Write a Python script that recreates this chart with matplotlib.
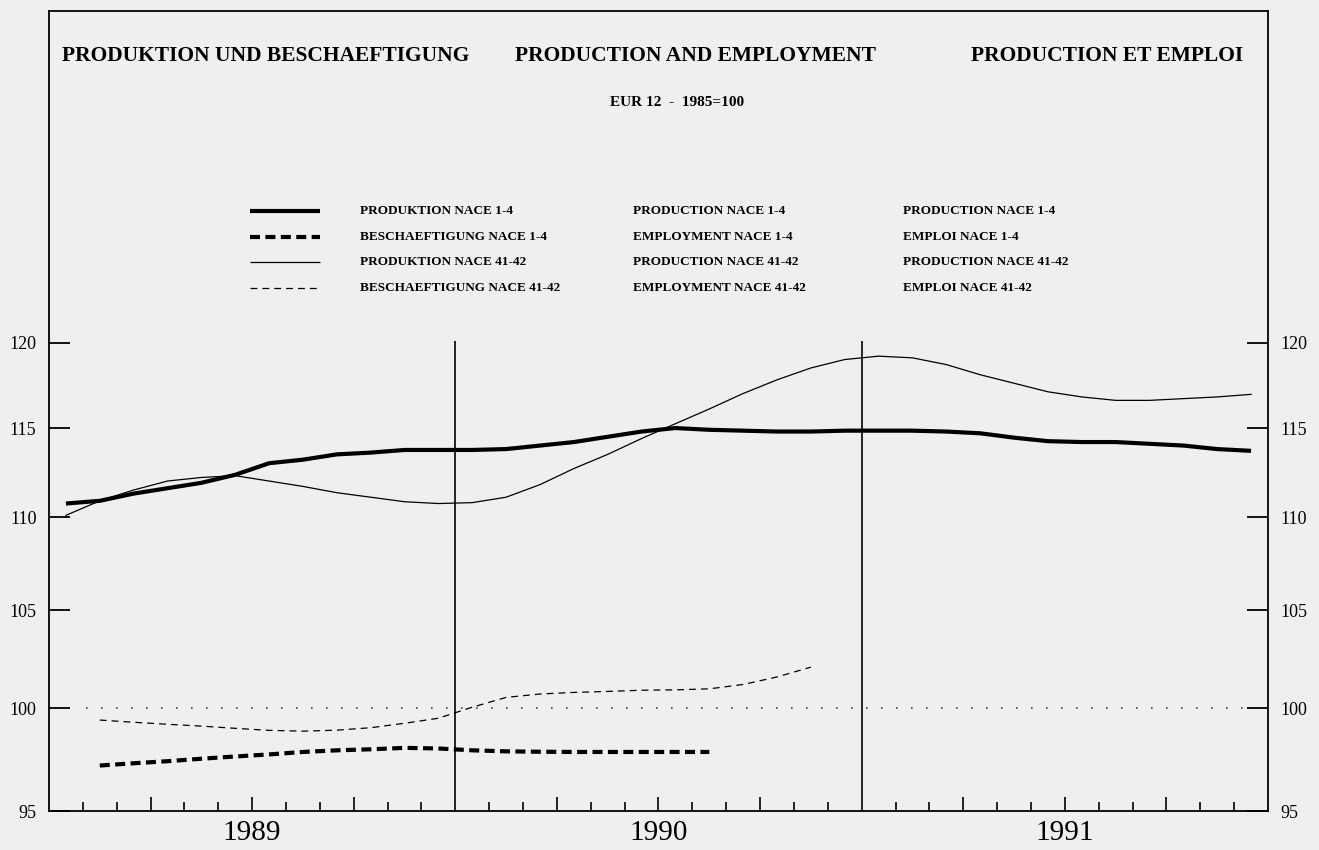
import matplotlib
matplotlib.use("Agg")
import matplotlib.pyplot as plt
import matplotlib.ticker as mticker
import numpy as np

plt.rcParams['font.family'] = ['Liberation Serif', 'DejaVu Serif']

# monthly index: 0 = January 1989 ... 35 = December 1991 (plotted mid-month)
prod_months = list(range(36))
prod_1_4 = [110.75, 110.9, 111.3, 111.6, 111.9, 112.35, 113.0, 113.2, 113.5, 113.6, 113.75, 113.75,
            113.75, 113.8, 114.0, 114.2, 114.5, 114.8, 115.0, 114.9, 114.85, 114.8, 114.8, 114.85,
            114.85, 114.85, 114.8, 114.7, 114.45, 114.25, 114.2, 114.2, 114.1, 114.0, 113.8, 113.7]
prod_41_42 = [110.1, 110.9, 111.5, 112.0, 112.2, 112.3, 112.0, 111.7, 111.35, 111.1, 110.85, 110.75,
              110.8, 111.1, 111.8, 112.7, 113.5, 114.4, 115.25, 116.1, 117.0, 117.8, 118.5, 119.0,
              119.2, 119.1, 118.7, 118.1, 117.6, 117.1, 116.8, 116.6, 116.6, 116.7, 116.8, 116.95]

emp_1_4_months = list(range(1, 20))
emp_1_4 = [97.18, 97.29, 97.39, 97.51, 97.62, 97.72, 97.84, 97.92, 97.97, 98.04, 98.01,
           97.92, 97.87, 97.85, 97.84, 97.84, 97.84, 97.84, 97.84]

emp_41_42_months = list(range(1, 23))
emp_41_42 = [99.41, 99.30, 99.20, 99.11, 99.00, 98.90, 98.86, 98.91, 99.03, 99.25, 99.5,
             100.05, 100.54, 100.71, 100.79, 100.84, 100.90, 100.92, 100.97, 101.19, 101.57, 102.07]

years = ['1989', '1990', '1991']
yticks = [95, 100, 105, 110, 115, 120]

titles = ['PRODUKTION UND BESCHAEFTIGUNG', 'PRODUCTION AND EMPLOYMENT', 'PRODUCTION ET EMPLOI']
subtitle = 'EUR 12  -  1985=100'
legend_de = ['PRODUKTION NACE 1-4', 'BESCHAEFTIGUNG NACE 1-4',
             'PRODUKTION NACE 41-42', 'BESCHAEFTIGUNG NACE 41-42']
legend_en = ['PRODUCTION NACE 1-4', 'EMPLOYMENT NACE 1-4',
             'PRODUCTION NACE 41-42', 'EMPLOYMENT NACE 41-42']
legend_fr = ['PRODUCTION NACE 1-4', 'EMPLOI NACE 1-4',
             'PRODUCTION NACE 41-42', 'EMPLOI NACE 41-42']

bg = '#efefef'
fig = plt.figure(figsize=(13.19, 8.5), dpi=100, facecolor=bg)
ax = fig.add_axes([49 / 1319, 39 / 850, 1219 / 1319, 800 / 850])
ax.set_facecolor(bg)

styles = [
    dict(lw=3.0, ls='-'),
    dict(lw=3.0, ls=(0, (2.4, 1.3))),
    dict(lw=0.9, ls='-'),
    dict(lw=0.9, ls=(0, (5.5, 4.0))),
]

mid = lambda m: np.array(m) + 0.5
ax.plot(mid(prod_months), prod_1_4, color='black', solid_capstyle='butt', **styles[0])
ax.plot(mid(emp_1_4_months), emp_1_4, color='black', dash_capstyle='butt', **styles[1])
ax.plot(mid(prod_months), prod_41_42, color='black', **styles[2])
ax.plot(mid(emp_41_42_months), emp_41_42, color='black', **styles[3])

# reference line at 100 and year separators
ax.axhline(100, xmin=0.03, xmax=0.985, color='#444444', lw=1.2, ls=(0, (1, 8)))
ax.vlines([12, 24], 95, 120.1, color='black', lw=1.2)

ax.set_yscale('log')
ax.set_xlim(0, 36)
ax.set_ylim(95, 141.6)
ax.set_yticks(yticks, labels=[str(v) for v in yticks])
ax.yaxis.set_minor_locator(mticker.NullLocator())
ax.tick_params(axis='y', which='major', direction='in', length=15, width=1.3,
               left=True, right=True, labelleft=True, labelright=True,
               labelsize=13, pad=9)

ax.set_xticks([3, 6, 9, 15, 18, 21, 27, 30, 33])
ax.set_xticks([m for m in range(1, 36) if m % 3 != 0], minor=True)
ax.tick_params(axis='x', which='major', direction='in', length=10, width=1.2,
               labelbottom=False)
ax.tick_params(axis='x', which='minor', direction='in', length=6.5, width=1.2)

for s in ax.spines.values():
    s.set_linewidth(1.3)

tr = ax.get_xaxis_transform()
for i, y in enumerate(years):
    ax.text(6 + 12 * i, -0.027, y, transform=tr, ha='center', va='center', fontsize=21)

# header
for x, t in zip([0.0107, 0.3826, 0.756], titles):
    ax.text(x, 0.9437, t, transform=ax.transAxes, ha='left', va='center',
            fontsize=15.5, fontweight='bold', clip_on=True)
ax.text(0.4606, 0.8862, subtitle, transform=ax.transAxes, ha='left', va='center',
        fontsize=11, fontweight='bold')

# legend
leg_y = [0.75, 0.7175, 0.6862, 0.6537]
for k in range(4):
    ax.plot([0.165, 0.2225], [leg_y[k]] * 2, transform=ax.transAxes, color='black',
            solid_capstyle='butt', dash_capstyle='butt', **styles[k])
    for x, lab in zip([0.2553, 0.4787, 0.7003], [legend_de, legend_en, legend_fr]):
        ax.text(x, leg_y[k], lab[k], transform=ax.transAxes, ha='left', va='center',
                fontsize=9.5, fontweight='bold')

fig.savefig('out.png', dpi=100, facecolor=bg)
